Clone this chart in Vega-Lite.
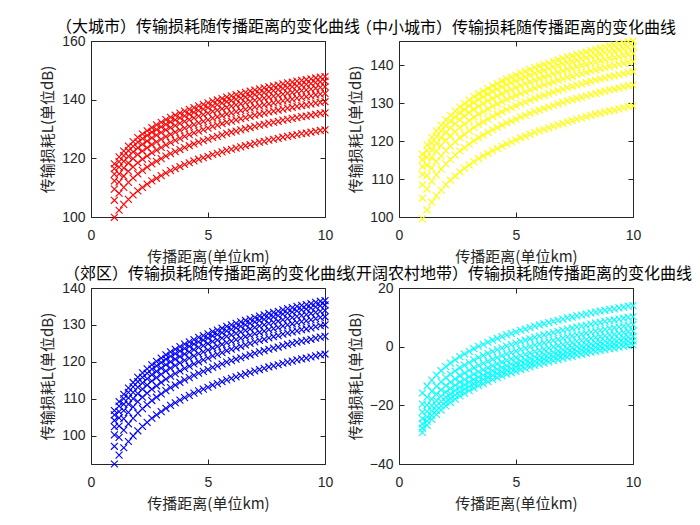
{
"$schema":"https://vega.github.io/schema/vega-lite/v6.json",
"padding":{"left":40,"top":19,"right":5,"bottom":5},
"background":"white",
"data":{"values":[
{"d":1,"a":99.9,"b":99.5,"c":92.3,"e":-15.8},{"d":1.2,"a":102.3,"b":101.9,"c":94.7,"e":-13.4},{"d":1.4,"a":104.3,"b":103.9,"c":96.7,"e":-11.4},{"d":1.6,"a":106.0,"b":105.6,"c":98.4,"e":-9.7},{"d":1.8,"a":107.5,"b":107.1,"c":99.9,"e":-8.2},{"d":2,"a":108.9,"b":108.5,"c":101.3,"e":-6.8},{"d":2.2,"a":110.1,"b":109.7,"c":102.5,"e":-5.6},{"d":2.4,"a":111.2,"b":110.8,"c":103.6,"e":-4.5},{"d":2.6,"a":112.3,"b":111.9,"c":104.7,"e":-3.4},{"d":2.8,"a":113.2,"b":112.8,"c":105.6,"e":-2.5},{"d":3,"a":114.1,"b":113.7,"c":106.5,"e":-1.6},{"d":3.2,"a":115.0,"b":114.6,"c":107.4,"e":-0.7},{"d":3.4,"a":115.8,"b":115.4,"c":108.2,"e":0.1},{"d":3.6,"a":116.5,"b":116.1,"c":108.9,"e":0.8},{"d":3.8,"a":117.2,"b":116.8,"c":109.6,"e":1.5},{"d":4,"a":117.9,"b":117.5,"c":110.3,"e":2.2},{"d":4.2,"a":118.5,"b":118.1,"c":110.9,"e":2.8},{"d":4.4,"a":119.1,"b":118.7,"c":111.5,"e":3.4},{"d":4.6,"a":119.7,"b":119.3,"c":112.1,"e":4.0},{"d":4.8,"a":120.2,"b":119.8,"c":112.6,"e":4.5},{"d":5,"a":120.7,"b":120.3,"c":113.1,"e":5.0},{"d":5.2,"a":121.3,"b":120.9,"c":113.7,"e":5.6},{"d":5.4,"a":121.7,"b":121.3,"c":114.1,"e":6.0},{"d":5.6,"a":122.2,"b":121.8,"c":114.6,"e":6.5},{"d":5.8,"a":122.7,"b":122.3,"c":115.1,"e":7.0},{"d":6,"a":123.1,"b":122.7,"c":115.5,"e":7.4},{"d":6.2,"a":123.5,"b":123.1,"c":115.9,"e":7.8},{"d":6.4,"a":123.9,"b":123.5,"c":116.3,"e":8.2},{"d":6.6,"a":124.3,"b":123.9,"c":116.7,"e":8.6},{"d":6.8,"a":124.7,"b":124.3,"c":117.1,"e":9.0},{"d":7,"a":125.1,"b":124.7,"c":117.5,"e":9.4},{"d":7.2,"a":125.5,"b":125.1,"c":117.9,"e":9.8},{"d":7.4,"a":125.8,"b":125.4,"c":118.2,"e":10.1},{"d":7.6,"a":126.2,"b":125.8,"c":118.6,"e":10.5},{"d":7.8,"a":126.5,"b":126.1,"c":118.9,"e":10.8},{"d":8,"a":126.8,"b":126.4,"c":119.2,"e":11.1},{"d":8.2,"a":127.2,"b":126.8,"c":119.6,"e":11.5},{"d":8.4,"a":127.5,"b":127.1,"c":119.9,"e":11.8},{"d":8.6,"a":127.8,"b":127.4,"c":120.2,"e":12.1},{"d":8.8,"a":128.1,"b":127.7,"c":120.5,"e":12.4},{"d":9,"a":128.4,"b":128.0,"c":120.8,"e":12.7},{"d":9.2,"a":128.6,"b":128.2,"c":121.0,"e":12.9},{"d":9.4,"a":128.9,"b":128.5,"c":121.3,"e":13.2},{"d":9.6,"a":129.2,"b":128.8,"c":121.6,"e":13.5},{"d":9.8,"a":129.5,"b":129.1,"c":121.9,"e":13.8},{"d":10,"a":129.7,"b":129.3,"c":122.1,"e":14.0},
{"d":1,"a":105.7,"b":105.0,"c":97.1,"e":-19.6},{"d":1.2,"a":108.1,"b":107.4,"c":99.5,"e":-17.2},{"d":1.4,"a":110.1,"b":109.4,"c":101.5,"e":-15.2},{"d":1.6,"a":111.8,"b":111.1,"c":103.2,"e":-13.5},{"d":1.8,"a":113.3,"b":112.6,"c":104.7,"e":-12.0},{"d":2,"a":114.7,"b":114.0,"c":106.1,"e":-10.6},{"d":2.2,"a":115.9,"b":115.2,"c":107.3,"e":-9.4},{"d":2.4,"a":117.0,"b":116.3,"c":108.4,"e":-8.3},{"d":2.6,"a":118.1,"b":117.4,"c":109.5,"e":-7.2},{"d":2.8,"a":119.0,"b":118.3,"c":110.4,"e":-6.3},{"d":3,"a":119.9,"b":119.2,"c":111.3,"e":-5.4},{"d":3.2,"a":120.8,"b":120.1,"c":112.2,"e":-4.5},{"d":3.4,"a":121.6,"b":120.9,"c":113.0,"e":-3.7},{"d":3.6,"a":122.3,"b":121.6,"c":113.7,"e":-3.0},{"d":3.8,"a":123.0,"b":122.3,"c":114.4,"e":-2.3},{"d":4,"a":123.7,"b":123.0,"c":115.1,"e":-1.6},{"d":4.2,"a":124.3,"b":123.6,"c":115.7,"e":-1.0},{"d":4.4,"a":124.9,"b":124.2,"c":116.3,"e":-0.4},{"d":4.6,"a":125.5,"b":124.8,"c":116.9,"e":0.2},{"d":4.8,"a":126.0,"b":125.3,"c":117.4,"e":0.7},{"d":5,"a":126.5,"b":125.8,"c":117.9,"e":1.2},{"d":5.2,"a":127.1,"b":126.4,"c":118.5,"e":1.8},{"d":5.4,"a":127.5,"b":126.8,"c":118.9,"e":2.2},{"d":5.6,"a":128.0,"b":127.3,"c":119.4,"e":2.7},{"d":5.8,"a":128.5,"b":127.8,"c":119.9,"e":3.2},{"d":6,"a":128.9,"b":128.2,"c":120.3,"e":3.6},{"d":6.2,"a":129.3,"b":128.6,"c":120.7,"e":4.0},{"d":6.4,"a":129.7,"b":129.0,"c":121.1,"e":4.4},{"d":6.6,"a":130.1,"b":129.4,"c":121.5,"e":4.8},{"d":6.8,"a":130.5,"b":129.8,"c":121.9,"e":5.2},{"d":7,"a":130.9,"b":130.2,"c":122.3,"e":5.6},{"d":7.2,"a":131.3,"b":130.6,"c":122.7,"e":6.0},{"d":7.4,"a":131.6,"b":130.9,"c":123.0,"e":6.3},{"d":7.6,"a":132.0,"b":131.3,"c":123.4,"e":6.7},{"d":7.8,"a":132.3,"b":131.6,"c":123.7,"e":7.0},{"d":8,"a":132.6,"b":131.9,"c":124.0,"e":7.3},{"d":8.2,"a":133.0,"b":132.3,"c":124.4,"e":7.7},{"d":8.4,"a":133.3,"b":132.6,"c":124.7,"e":8.0},{"d":8.6,"a":133.6,"b":132.9,"c":125.0,"e":8.3},{"d":8.8,"a":133.9,"b":133.2,"c":125.3,"e":8.6},{"d":9,"a":134.2,"b":133.5,"c":125.6,"e":8.9},{"d":9.2,"a":134.4,"b":133.7,"c":125.8,"e":9.1},{"d":9.4,"a":134.7,"b":134.0,"c":126.1,"e":9.4},{"d":9.6,"a":135.0,"b":134.3,"c":126.4,"e":9.7},{"d":9.8,"a":135.3,"b":134.6,"c":126.7,"e":10.0},{"d":10,"a":135.5,"b":134.8,"c":126.9,"e":10.2},
{"d":1,"a":109.5,"b":108.5,"c":100.2,"e":-22.3},{"d":1.2,"a":111.9,"b":110.9,"c":102.6,"e":-19.9},{"d":1.4,"a":113.9,"b":112.9,"c":104.6,"e":-17.9},{"d":1.6,"a":115.6,"b":114.6,"c":106.3,"e":-16.2},{"d":1.8,"a":117.1,"b":116.1,"c":107.8,"e":-14.7},{"d":2,"a":118.5,"b":117.5,"c":109.2,"e":-13.3},{"d":2.2,"a":119.7,"b":118.7,"c":110.4,"e":-12.1},{"d":2.4,"a":120.8,"b":119.8,"c":111.5,"e":-11.0},{"d":2.6,"a":121.9,"b":120.9,"c":112.6,"e":-9.9},{"d":2.8,"a":122.8,"b":121.8,"c":113.5,"e":-9.0},{"d":3,"a":123.7,"b":122.7,"c":114.4,"e":-8.1},{"d":3.2,"a":124.6,"b":123.6,"c":115.3,"e":-7.2},{"d":3.4,"a":125.4,"b":124.4,"c":116.1,"e":-6.4},{"d":3.6,"a":126.1,"b":125.1,"c":116.8,"e":-5.7},{"d":3.8,"a":126.8,"b":125.8,"c":117.5,"e":-5.0},{"d":4,"a":127.5,"b":126.5,"c":118.2,"e":-4.3},{"d":4.2,"a":128.1,"b":127.1,"c":118.8,"e":-3.7},{"d":4.4,"a":128.7,"b":127.7,"c":119.4,"e":-3.1},{"d":4.6,"a":129.3,"b":128.3,"c":120.0,"e":-2.5},{"d":4.8,"a":129.8,"b":128.8,"c":120.5,"e":-2.0},{"d":5,"a":130.3,"b":129.3,"c":121.0,"e":-1.5},{"d":5.2,"a":130.9,"b":129.9,"c":121.6,"e":-0.9},{"d":5.4,"a":131.3,"b":130.3,"c":122.0,"e":-0.5},{"d":5.6,"a":131.8,"b":130.8,"c":122.5,"e":0.0},{"d":5.8,"a":132.3,"b":131.3,"c":123.0,"e":0.5},{"d":6,"a":132.7,"b":131.7,"c":123.4,"e":0.9},{"d":6.2,"a":133.1,"b":132.1,"c":123.8,"e":1.3},{"d":6.4,"a":133.5,"b":132.5,"c":124.2,"e":1.7},{"d":6.6,"a":133.9,"b":132.9,"c":124.6,"e":2.1},{"d":6.8,"a":134.3,"b":133.3,"c":125.0,"e":2.5},{"d":7,"a":134.7,"b":133.7,"c":125.4,"e":2.9},{"d":7.2,"a":135.1,"b":134.1,"c":125.8,"e":3.3},{"d":7.4,"a":135.4,"b":134.4,"c":126.1,"e":3.6},{"d":7.6,"a":135.8,"b":134.8,"c":126.5,"e":4.0},{"d":7.8,"a":136.1,"b":135.1,"c":126.8,"e":4.3},{"d":8,"a":136.4,"b":135.4,"c":127.1,"e":4.6},{"d":8.2,"a":136.8,"b":135.8,"c":127.5,"e":5.0},{"d":8.4,"a":137.1,"b":136.1,"c":127.8,"e":5.3},{"d":8.6,"a":137.4,"b":136.4,"c":128.1,"e":5.6},{"d":8.8,"a":137.7,"b":136.7,"c":128.4,"e":5.9},{"d":9,"a":138.0,"b":137.0,"c":128.7,"e":6.2},{"d":9.2,"a":138.2,"b":137.2,"c":128.9,"e":6.4},{"d":9.4,"a":138.5,"b":137.5,"c":129.2,"e":6.7},{"d":9.6,"a":138.8,"b":137.8,"c":129.5,"e":7.0},{"d":9.8,"a":139.1,"b":138.1,"c":129.8,"e":7.3},{"d":10,"a":139.3,"b":138.3,"c":130.0,"e":7.5},
{"d":1,"a":112.3,"b":111.2,"c":102.4,"e":-24.5},{"d":1.2,"a":114.7,"b":113.6,"c":104.8,"e":-22.1},{"d":1.4,"a":116.7,"b":115.6,"c":106.8,"e":-20.1},{"d":1.6,"a":118.4,"b":117.3,"c":108.5,"e":-18.4},{"d":1.8,"a":119.9,"b":118.8,"c":110.0,"e":-16.9},{"d":2,"a":121.3,"b":120.2,"c":111.4,"e":-15.5},{"d":2.2,"a":122.5,"b":121.4,"c":112.6,"e":-14.3},{"d":2.4,"a":123.6,"b":122.5,"c":113.7,"e":-13.2},{"d":2.6,"a":124.7,"b":123.6,"c":114.8,"e":-12.1},{"d":2.8,"a":125.6,"b":124.5,"c":115.7,"e":-11.2},{"d":3,"a":126.5,"b":125.4,"c":116.6,"e":-10.3},{"d":3.2,"a":127.4,"b":126.3,"c":117.5,"e":-9.4},{"d":3.4,"a":128.2,"b":127.1,"c":118.3,"e":-8.6},{"d":3.6,"a":128.9,"b":127.8,"c":119.0,"e":-7.9},{"d":3.8,"a":129.6,"b":128.5,"c":119.7,"e":-7.2},{"d":4,"a":130.3,"b":129.2,"c":120.4,"e":-6.5},{"d":4.2,"a":130.9,"b":129.8,"c":121.0,"e":-5.9},{"d":4.4,"a":131.5,"b":130.4,"c":121.6,"e":-5.3},{"d":4.6,"a":132.1,"b":131.0,"c":122.2,"e":-4.7},{"d":4.8,"a":132.6,"b":131.5,"c":122.7,"e":-4.2},{"d":5,"a":133.1,"b":132.0,"c":123.2,"e":-3.7},{"d":5.2,"a":133.7,"b":132.6,"c":123.8,"e":-3.1},{"d":5.4,"a":134.1,"b":133.0,"c":124.2,"e":-2.7},{"d":5.6,"a":134.6,"b":133.5,"c":124.7,"e":-2.2},{"d":5.8,"a":135.1,"b":134.0,"c":125.2,"e":-1.7},{"d":6,"a":135.5,"b":134.4,"c":125.6,"e":-1.3},{"d":6.2,"a":135.9,"b":134.8,"c":126.0,"e":-0.9},{"d":6.4,"a":136.3,"b":135.2,"c":126.4,"e":-0.5},{"d":6.6,"a":136.7,"b":135.6,"c":126.8,"e":-0.1},{"d":6.8,"a":137.1,"b":136.0,"c":127.2,"e":0.3},{"d":7,"a":137.5,"b":136.4,"c":127.6,"e":0.7},{"d":7.2,"a":137.9,"b":136.8,"c":128.0,"e":1.1},{"d":7.4,"a":138.2,"b":137.1,"c":128.3,"e":1.4},{"d":7.6,"a":138.6,"b":137.5,"c":128.7,"e":1.8},{"d":7.8,"a":138.9,"b":137.8,"c":129.0,"e":2.1},{"d":8,"a":139.2,"b":138.1,"c":129.3,"e":2.4},{"d":8.2,"a":139.6,"b":138.5,"c":129.7,"e":2.8},{"d":8.4,"a":139.9,"b":138.8,"c":130.0,"e":3.1},{"d":8.6,"a":140.2,"b":139.1,"c":130.3,"e":3.4},{"d":8.8,"a":140.5,"b":139.4,"c":130.6,"e":3.7},{"d":9,"a":140.8,"b":139.7,"c":130.9,"e":4.0},{"d":9.2,"a":141.0,"b":139.9,"c":131.1,"e":4.2},{"d":9.4,"a":141.3,"b":140.2,"c":131.4,"e":4.5},{"d":9.6,"a":141.6,"b":140.5,"c":131.7,"e":4.8},{"d":9.8,"a":141.9,"b":140.8,"c":132.0,"e":5.1},{"d":10,"a":142.1,"b":141.0,"c":132.2,"e":5.3},
{"d":1,"a":114.6,"b":113.3,"c":104.1,"e":-26.3},{"d":1.2,"a":117.0,"b":115.7,"c":106.5,"e":-23.9},{"d":1.4,"a":119.0,"b":117.7,"c":108.5,"e":-21.9},{"d":1.6,"a":120.7,"b":119.4,"c":110.2,"e":-20.2},{"d":1.8,"a":122.2,"b":120.9,"c":111.7,"e":-18.7},{"d":2,"a":123.6,"b":122.3,"c":113.1,"e":-17.3},{"d":2.2,"a":124.8,"b":123.5,"c":114.3,"e":-16.1},{"d":2.4,"a":125.9,"b":124.6,"c":115.4,"e":-15.0},{"d":2.6,"a":127.0,"b":125.7,"c":116.5,"e":-13.9},{"d":2.8,"a":127.9,"b":126.6,"c":117.4,"e":-13.0},{"d":3,"a":128.8,"b":127.5,"c":118.3,"e":-12.1},{"d":3.2,"a":129.7,"b":128.4,"c":119.2,"e":-11.2},{"d":3.4,"a":130.5,"b":129.2,"c":120.0,"e":-10.4},{"d":3.6,"a":131.2,"b":129.9,"c":120.7,"e":-9.7},{"d":3.8,"a":131.9,"b":130.6,"c":121.4,"e":-9.0},{"d":4,"a":132.6,"b":131.3,"c":122.1,"e":-8.3},{"d":4.2,"a":133.2,"b":131.9,"c":122.7,"e":-7.7},{"d":4.4,"a":133.8,"b":132.5,"c":123.3,"e":-7.1},{"d":4.6,"a":134.4,"b":133.1,"c":123.9,"e":-6.5},{"d":4.8,"a":134.9,"b":133.6,"c":124.4,"e":-6.0},{"d":5,"a":135.4,"b":134.1,"c":124.9,"e":-5.5},{"d":5.2,"a":136.0,"b":134.7,"c":125.5,"e":-4.9},{"d":5.4,"a":136.4,"b":135.1,"c":125.9,"e":-4.5},{"d":5.6,"a":136.9,"b":135.6,"c":126.4,"e":-4.0},{"d":5.8,"a":137.4,"b":136.1,"c":126.9,"e":-3.5},{"d":6,"a":137.8,"b":136.5,"c":127.3,"e":-3.1},{"d":6.2,"a":138.2,"b":136.9,"c":127.7,"e":-2.7},{"d":6.4,"a":138.6,"b":137.3,"c":128.1,"e":-2.3},{"d":6.6,"a":139.0,"b":137.7,"c":128.5,"e":-1.9},{"d":6.8,"a":139.4,"b":138.1,"c":128.9,"e":-1.5},{"d":7,"a":139.8,"b":138.5,"c":129.3,"e":-1.1},{"d":7.2,"a":140.2,"b":138.9,"c":129.7,"e":-0.7},{"d":7.4,"a":140.5,"b":139.2,"c":130.0,"e":-0.4},{"d":7.6,"a":140.9,"b":139.6,"c":130.4,"e":0.0},{"d":7.8,"a":141.2,"b":139.9,"c":130.7,"e":0.3},{"d":8,"a":141.5,"b":140.2,"c":131.0,"e":0.6},{"d":8.2,"a":141.9,"b":140.6,"c":131.4,"e":1.0},{"d":8.4,"a":142.2,"b":140.9,"c":131.7,"e":1.3},{"d":8.6,"a":142.5,"b":141.2,"c":132.0,"e":1.6},{"d":8.8,"a":142.8,"b":141.5,"c":132.3,"e":1.9},{"d":9,"a":143.1,"b":141.8,"c":132.6,"e":2.2},{"d":9.2,"a":143.3,"b":142.0,"c":132.8,"e":2.4},{"d":9.4,"a":143.6,"b":142.3,"c":133.1,"e":2.7},{"d":9.6,"a":143.9,"b":142.6,"c":133.4,"e":3.0},{"d":9.8,"a":144.2,"b":142.9,"c":133.7,"e":3.3},{"d":10,"a":144.4,"b":143.1,"c":133.9,"e":3.5},
{"d":1,"a":116.5,"b":115.1,"c":105.6,"e":-27.8},{"d":1.2,"a":118.9,"b":117.5,"c":108.0,"e":-25.4},{"d":1.4,"a":120.9,"b":119.5,"c":110.0,"e":-23.4},{"d":1.6,"a":122.6,"b":121.2,"c":111.7,"e":-21.7},{"d":1.8,"a":124.1,"b":122.7,"c":113.2,"e":-20.2},{"d":2,"a":125.5,"b":124.1,"c":114.6,"e":-18.8},{"d":2.2,"a":126.7,"b":125.3,"c":115.8,"e":-17.6},{"d":2.4,"a":127.8,"b":126.4,"c":116.9,"e":-16.5},{"d":2.6,"a":128.9,"b":127.5,"c":118.0,"e":-15.4},{"d":2.8,"a":129.8,"b":128.4,"c":118.9,"e":-14.5},{"d":3,"a":130.7,"b":129.3,"c":119.8,"e":-13.6},{"d":3.2,"a":131.6,"b":130.2,"c":120.7,"e":-12.7},{"d":3.4,"a":132.4,"b":131.0,"c":121.5,"e":-11.9},{"d":3.6,"a":133.1,"b":131.7,"c":122.2,"e":-11.2},{"d":3.8,"a":133.8,"b":132.4,"c":122.9,"e":-10.5},{"d":4,"a":134.5,"b":133.1,"c":123.6,"e":-9.8},{"d":4.2,"a":135.1,"b":133.7,"c":124.2,"e":-9.2},{"d":4.4,"a":135.7,"b":134.3,"c":124.8,"e":-8.6},{"d":4.6,"a":136.3,"b":134.9,"c":125.4,"e":-8.0},{"d":4.8,"a":136.8,"b":135.4,"c":125.9,"e":-7.5},{"d":5,"a":137.3,"b":135.9,"c":126.4,"e":-7.0},{"d":5.2,"a":137.9,"b":136.5,"c":127.0,"e":-6.4},{"d":5.4,"a":138.3,"b":136.9,"c":127.4,"e":-6.0},{"d":5.6,"a":138.8,"b":137.4,"c":127.9,"e":-5.5},{"d":5.8,"a":139.3,"b":137.9,"c":128.4,"e":-5.0},{"d":6,"a":139.7,"b":138.3,"c":128.8,"e":-4.6},{"d":6.2,"a":140.1,"b":138.7,"c":129.2,"e":-4.2},{"d":6.4,"a":140.5,"b":139.1,"c":129.6,"e":-3.8},{"d":6.6,"a":140.9,"b":139.5,"c":130.0,"e":-3.4},{"d":6.8,"a":141.3,"b":139.9,"c":130.4,"e":-3.0},{"d":7,"a":141.7,"b":140.3,"c":130.8,"e":-2.6},{"d":7.2,"a":142.1,"b":140.7,"c":131.2,"e":-2.2},{"d":7.4,"a":142.4,"b":141.0,"c":131.5,"e":-1.9},{"d":7.6,"a":142.8,"b":141.4,"c":131.9,"e":-1.5},{"d":7.8,"a":143.1,"b":141.7,"c":132.2,"e":-1.2},{"d":8,"a":143.4,"b":142.0,"c":132.5,"e":-0.9},{"d":8.2,"a":143.8,"b":142.4,"c":132.9,"e":-0.5},{"d":8.4,"a":144.1,"b":142.7,"c":133.2,"e":-0.2},{"d":8.6,"a":144.4,"b":143.0,"c":133.5,"e":0.1},{"d":8.8,"a":144.7,"b":143.3,"c":133.8,"e":0.4},{"d":9,"a":145.0,"b":143.6,"c":134.1,"e":0.7},{"d":9.2,"a":145.2,"b":143.8,"c":134.3,"e":0.9},{"d":9.4,"a":145.5,"b":144.1,"c":134.6,"e":1.2},{"d":9.6,"a":145.8,"b":144.4,"c":134.9,"e":1.5},{"d":9.8,"a":146.1,"b":144.7,"c":135.2,"e":1.8},{"d":10,"a":146.3,"b":144.9,"c":135.4,"e":2.0},
{"d":1,"a":118.1,"b":116.6,"c":106.8,"e":-29.2},{"d":1.2,"a":120.5,"b":119.0,"c":109.2,"e":-26.8},{"d":1.4,"a":122.5,"b":121.0,"c":111.2,"e":-24.8},{"d":1.6,"a":124.2,"b":122.7,"c":112.9,"e":-23.1},{"d":1.8,"a":125.7,"b":124.2,"c":114.4,"e":-21.6},{"d":2,"a":127.1,"b":125.6,"c":115.8,"e":-20.2},{"d":2.2,"a":128.3,"b":126.8,"c":117.0,"e":-19.0},{"d":2.4,"a":129.4,"b":127.9,"c":118.1,"e":-17.9},{"d":2.6,"a":130.5,"b":129.0,"c":119.2,"e":-16.8},{"d":2.8,"a":131.4,"b":129.9,"c":120.1,"e":-15.9},{"d":3,"a":132.3,"b":130.8,"c":121.0,"e":-15.0},{"d":3.2,"a":133.2,"b":131.7,"c":121.9,"e":-14.1},{"d":3.4,"a":134.0,"b":132.5,"c":122.7,"e":-13.3},{"d":3.6,"a":134.7,"b":133.2,"c":123.4,"e":-12.6},{"d":3.8,"a":135.4,"b":133.9,"c":124.1,"e":-11.9},{"d":4,"a":136.1,"b":134.6,"c":124.8,"e":-11.2},{"d":4.2,"a":136.7,"b":135.2,"c":125.4,"e":-10.6},{"d":4.4,"a":137.3,"b":135.8,"c":126.0,"e":-10.0},{"d":4.6,"a":137.9,"b":136.4,"c":126.6,"e":-9.4},{"d":4.8,"a":138.4,"b":136.9,"c":127.1,"e":-8.9},{"d":5,"a":138.9,"b":137.4,"c":127.6,"e":-8.4},{"d":5.2,"a":139.5,"b":138.0,"c":128.2,"e":-7.8},{"d":5.4,"a":139.9,"b":138.4,"c":128.6,"e":-7.4},{"d":5.6,"a":140.4,"b":138.9,"c":129.1,"e":-6.9},{"d":5.8,"a":140.9,"b":139.4,"c":129.6,"e":-6.4},{"d":6,"a":141.3,"b":139.8,"c":130.0,"e":-6.0},{"d":6.2,"a":141.7,"b":140.2,"c":130.4,"e":-5.6},{"d":6.4,"a":142.1,"b":140.6,"c":130.8,"e":-5.2},{"d":6.6,"a":142.5,"b":141.0,"c":131.2,"e":-4.8},{"d":6.8,"a":142.9,"b":141.4,"c":131.6,"e":-4.4},{"d":7,"a":143.3,"b":141.8,"c":132.0,"e":-4.0},{"d":7.2,"a":143.7,"b":142.2,"c":132.4,"e":-3.6},{"d":7.4,"a":144.0,"b":142.5,"c":132.7,"e":-3.3},{"d":7.6,"a":144.4,"b":142.9,"c":133.1,"e":-2.9},{"d":7.8,"a":144.7,"b":143.2,"c":133.4,"e":-2.6},{"d":8,"a":145.0,"b":143.5,"c":133.7,"e":-2.3},{"d":8.2,"a":145.4,"b":143.9,"c":134.1,"e":-1.9},{"d":8.4,"a":145.7,"b":144.2,"c":134.4,"e":-1.6},{"d":8.6,"a":146.0,"b":144.5,"c":134.7,"e":-1.3},{"d":8.8,"a":146.3,"b":144.8,"c":135.0,"e":-1.0},{"d":9,"a":146.6,"b":145.1,"c":135.3,"e":-0.7},{"d":9.2,"a":146.8,"b":145.3,"c":135.5,"e":-0.5},{"d":9.4,"a":147.1,"b":145.6,"c":135.8,"e":-0.2},{"d":9.6,"a":147.4,"b":145.9,"c":136.1,"e":0.1},{"d":9.8,"a":147.7,"b":146.2,"c":136.4,"e":0.4},{"d":10,"a":147.9,"b":146.4,"c":136.6,"e":0.6}
]},
"config":{
 "view":{"stroke":null},
 "font":"Noto Sans CJK SC",
 "axis":{"grid":false,"domainColor":"#262626","domainWidth":1,"tickColor":"#262626","tickWidth":1,"tickSize":-5,"labelColor":"#262626","labelFont":"Liberation Sans","labelFontSize":14,"labelFlush":false,"labelOverlap":false,"titleColor":"#262626","titleFont":"Noto Sans CJK SC","titleFontSize":15,"titleFontWeight":"normal"},
 "axisX":{"labelPadding":16,"titlePadding":7},
 "axisY":{"labelPadding":11,"titlePadding":6},
 "title":{"font":"Noto Sans CJK SC","fontSize":16,"fontWeight":"normal","color":"#000000","offset":-1}
},
"concat":[
 {"width":234,"height":176,"title":{"text":"（大城市）传输损耗随传播距离的变化曲线"},
  "layer":[
   {"mark":{"type":"point","shape":"M-1,-1L1,1M-1,1L1,-1","filled":false,"size":48,"strokeWidth":1.1,"color":"#FF0000","opacity":1,"clip":false},
    "encoding":{"x":{"field":"d","type":"quantitative","scale":{"domain":[0,10],"nice":false,"zero":false},"axis":{"values":[0,5,10],"title":"传播距离(单位km)"}},
     "y":{"field":"a","type":"quantitative","scale":{"domain":[100,160],"nice":false,"zero":false},"axis":{"values":[100,120,140,160],"title":"传输损耗L(单位dB)"}}}},
   {"mark":{"type":"point","opacity":0},
    "encoding":{"x":{"field":"d","type":"quantitative","axis":{"orient":"top","values":[0,5,10],"labels":false,"title":null}},
     "y":{"field":"a","type":"quantitative","axis":{"orient":"right","values":[100,120,140,160],"labels":false,"title":null}}}}
  ],
  "resolve":{"axis":{"x":"independent","y":"independent"}}},
 {"width":234,"height":176,"title":{"text":"（中小城市）传输损耗随传播距离的变化曲线"},
  "layer":[
   {"mark":{"type":"point","shape":"M-1,-1L1,1M-1,1L1,-1","filled":false,"size":48,"strokeWidth":1.1,"color":"#FFFF00","opacity":1,"clip":false},
    "encoding":{"x":{"field":"d","type":"quantitative","scale":{"domain":[0,10],"nice":false,"zero":false},"axis":{"values":[0,5,10],"title":"传播距离(单位km)"}},
     "y":{"field":"b","type":"quantitative","scale":{"domain":[100,146.4],"nice":false,"zero":false},"axis":{"values":[100,110,120,130,140],"title":"传输损耗L(单位dB)"}}}},
   {"mark":{"type":"point","opacity":0},
    "encoding":{"x":{"field":"d","type":"quantitative","axis":{"orient":"top","values":[0,5,10],"labels":false,"title":null}},
     "y":{"field":"b","type":"quantitative","axis":{"orient":"right","values":[100,110,120,130,140],"labels":false,"title":null}}}}
  ],
  "resolve":{"axis":{"x":"independent","y":"independent"}}},
 {"width":234,"height":176,"title":{"text":"（郊区）传输损耗随传播距离的变化曲线"},
  "layer":[
   {"mark":{"type":"point","shape":"M-1,-1L1,1M-1,1L1,-1","filled":false,"size":48,"strokeWidth":1.1,"color":"#0000FF","opacity":1,"clip":false},
    "encoding":{"x":{"field":"d","type":"quantitative","scale":{"domain":[0,10],"nice":false,"zero":false},"axis":{"values":[0,5,10],"title":"传播距离(单位km)"}},
     "y":{"field":"c","type":"quantitative","scale":{"domain":[92.3,140],"nice":false,"zero":false},"axis":{"values":[100,110,120,130,140],"title":"传输损耗L(单位dB)"}}}},
   {"mark":{"type":"point","opacity":0},
    "encoding":{"x":{"field":"d","type":"quantitative","axis":{"orient":"top","values":[0,5,10],"labels":false,"title":null}},
     "y":{"field":"c","type":"quantitative","axis":{"orient":"right","values":[100,110,120,130,140],"labels":false,"title":null}}}}
  ],
  "resolve":{"axis":{"x":"independent","y":"independent"}}},
 {"width":234,"height":176,"title":{"text":"（开阔农村地带）传输损耗随传播距离的变化曲线"},
  "layer":[
   {"mark":{"type":"point","shape":"M-1,-1L1,1M-1,1L1,-1","filled":false,"size":48,"strokeWidth":1.1,"color":"#00FFFF","opacity":1,"clip":false},
    "encoding":{"x":{"field":"d","type":"quantitative","scale":{"domain":[0,10],"nice":false,"zero":false},"axis":{"values":[0,5,10],"title":"传播距离(单位km)"}},
     "y":{"field":"e","type":"quantitative","scale":{"domain":[-40,20],"nice":false,"zero":false},"axis":{"values":[-40,-20,0,20],"title":"传输损耗L(单位dB)"}}}},
   {"mark":{"type":"point","opacity":0},
    "encoding":{"x":{"field":"d","type":"quantitative","axis":{"orient":"top","values":[0,5,10],"labels":false,"title":null}},
     "y":{"field":"e","type":"quantitative","axis":{"orient":"right","values":[-40,-20,0,20],"labels":false,"title":null}}}}
  ],
  "resolve":{"axis":{"x":"independent","y":"independent"}}}
],
"columns":2,
"spacing":{"row":71,"column":74},
"bounds":"flush"
}
